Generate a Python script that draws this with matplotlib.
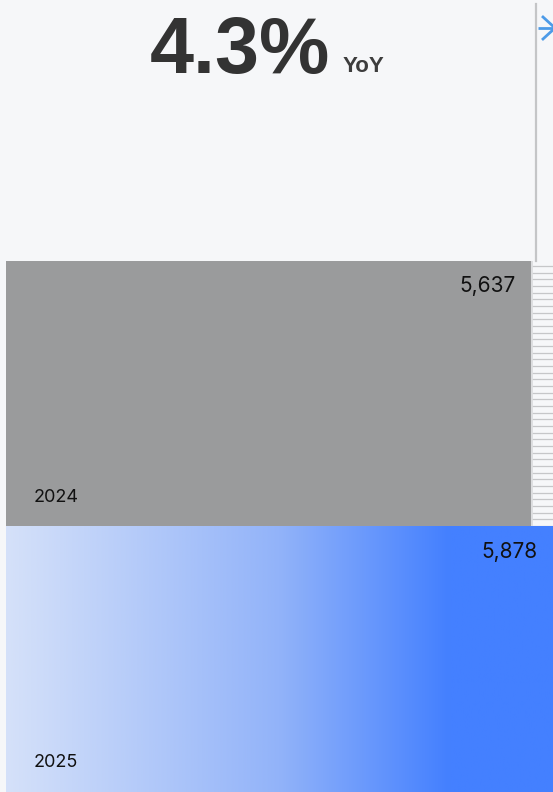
import numpy as np
import matplotlib.pyplot as plt
from matplotlib.colors import LinearSegmentedColormap

plt.rcParams['font.family'] = ['Inter', 'DejaVu Sans']

# data
years = ["2025", "2024"]
values = [5878, 5637]
yoy_text = "4.3%"

bg = "#f6f7f9"
W, H = 553, 792

fig = plt.figure(figsize=(W / 100, H / 100), dpi=100, facecolor=bg)
ax = fig.add_axes([6 / W, 0, 547 / W, 531 / H])
ax.set_facecolor("none")
for s in ax.spines.values():
    s.set_visible(False)
ax.set_xticks([])
ax.set_yticks([])

ypos = np.arange(len(years))

# 2024 bar (gray)
ax.barh(ypos[1], values[1], height=1.0, color="#9a9b9c", zorder=2)

# 2025 bar with gradient
cmap = LinearSegmentedColormap.from_list(
    "g", [(0, "#d5e1f9"), (0.5, "#92b3f9"), (0.81, "#4480ff"), (1, "#4480ff")])
grad = np.linspace(0, 1, 256).reshape(1, -1)
ax.imshow(grad, cmap=cmap, aspect="auto", interpolation="bicubic",
          extent=(0, values[0], ypos[0] - 0.5, ypos[0] + 0.5), zorder=2)

ax.set_xlim(0, max(values))
ax.set_ylim(-0.5, 1.5)

# stripes right of the 2024 bar
for yy in np.arange(ypos[1] - 0.5 + 0.002, ypos[1] + 0.5, 0.0251):
    ax.plot([values[1], max(values)], [yy, yy], color="#c6c7c9", lw=0.9,
            zorder=1, solid_capstyle="butt")
ax.plot([values[1], values[1]], [ypos[1] - 0.5, ypos[1] + 0.5],
        color="#dcdddf", lw=2, zorder=1)

# labels
for y, v, lab in zip(ypos, values, years):
    ax.annotate(f"{v:,}", xy=(v, y + 0.5), xytext=(-11, -11),
                textcoords="offset points", ha="right", va="top",
                fontsize=15, color="#111111", zorder=3)
    ax.annotate(lab, xy=(0, y - 0.5), xytext=(20, 18),
                textcoords="offset points", ha="left", va="baseline",
                fontsize=13, color="#111111", zorder=3)

# header
fig.text(150 / W, 1 - 73 / H, yoy_text, fontsize=57, fontweight="bold",
         family="Liberation Sans", color="#333333", ha="left", va="baseline")
fig.text(343 / W, 1 - 72 / H, "YoY", fontsize=16, fontweight="bold",
         family="Liberation Sans", color="#3d3d3d", ha="left", va="baseline")

# divider line at top right
fig.add_artist(plt.Line2D([536 / W, 536 / W], [1 - 4 / H, 1 - 261 / H],
                          color="#c4c5c7", lw=1.6))
# arrow icon (cut off by the right edge)
arrow_col = "#4d9be8"
fig.add_artist(plt.Line2D([538 / W, 556 / W], [1 - 28 / H, 1 - 28 / H],
                          color=arrow_col, lw=2.0, solid_capstyle="butt"))
fig.add_artist(plt.Line2D([543 / W, 555 / W, 543 / W],
                          [1 - 17 / H, 1 - 28 / H, 1 - 39 / H],
                          color=arrow_col, lw=2.0))

fig.savefig("out.png", dpi=100, facecolor=bg)
